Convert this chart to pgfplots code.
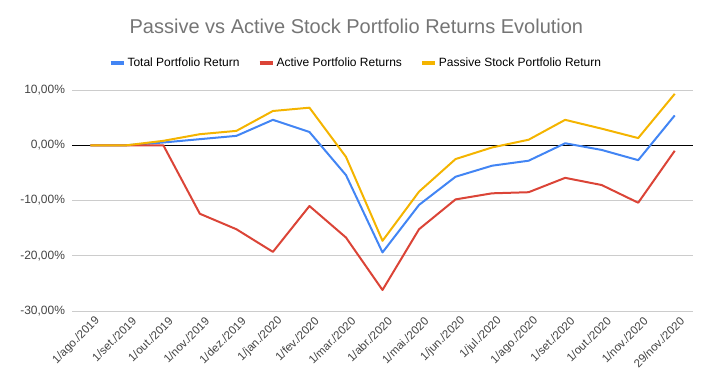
\documentclass[border=0pt]{standalone}
\usepackage{pgfplots}
\pgfplotsset{compat=1.18}
\usepackage{fontspec}
\setmainfont{Liberation Sans}
\definecolor{gblue}{HTML}{4285F4}
\definecolor{gred}{HTML}{DB4437}
\definecolor{gyellow}{HTML}{F4B400}
\definecolor{titlegray}{HTML}{757575}
\definecolor{ticktext}{HTML}{444444}
\definecolor{gridgray}{HTML}{CCCCCC}
\begin{document}
\begin{tikzpicture}
\useasboundingbox (-72bp,-81bp) rectangle (641bp,311bp);
\begin{axis}[
  at={(0,0)}, anchor=south west,
  scale only axis, width=621bp, height=221bp,
  xmin=-0.5, xmax=16.5, ymin=-30, ymax=10,
  xtick={0,...,16},
  xticklabels={1/ago./2019,1/set./2019,1/out./2019,1/nov./2019,1/dez./2019,1/jan./2020,1/fev./2020,1/mar./2020,1/abr./2020,1/mai./2020,1/jun./2020,1/jul./2020,1/ago./2020,1/set./2020,1/out./2020,1/nov./2020,29/nov./2020},
  ytick={-30,-20,-10,0,10},
  yticklabels={{-30,00\%},{-20,00\%},{-10,00\%},{0,00\%},{10,00\%}},
  extra y ticks={0},
  extra y tick labels={},
  extra y tick style={grid style={black, line width=0.9bp}},
  ymajorgrids,
  grid style={gridgray, line width=0.9bp},
  axis line style={draw=none},
  major tick length=0pt,
  tick label style={font=\fontsize{12bp}{14bp}\selectfont, text=ticktext},
  yticklabel style={xshift=-3.5bp},
  xticklabel style={rotate=45, anchor=east, xshift=3bp, yshift=-11bp,
    font=\fontsize{11.5bp}{13bp}\selectfont},
  title={Passive vs Active Stock Portfolio Returns Evolution},
  title style={at={(axis description cs:0.458,1.262)}, anchor=center,
    font=\fontsize{20bp}{24bp}\selectfont, text=titlegray},
  legend style={at={(axis description cs:0.457,1.122)}, anchor=center,
    draw=none, fill=none, legend columns=3,
    font=\fontsize{12bp}{14bp}\selectfont, text=black,
    /tikz/every even column/.append style={column sep=16bp},
    legend cell align=left, inner sep=0pt},
  legend image code/.code={\draw[#1, line width=4bp] (0bp,0bp) -- (13bp,0bp);},
  every axis plot/.append style={line width=2bp, line join=round},
]
\addplot[gblue, mark=none] coordinates {
(0,0) (1,0) (2,0.5) (3,1.1) (4,1.7) (5,4.6) (6,2.4) (7,-5.4) (8,-19.4)
(9,-10.8) (10,-5.7) (11,-3.7) (12,-2.8) (13,0.36) (14,-0.85) (15,-2.7) (16,5.4)};
\addlegendentry{Total Portfolio Return}
\addplot[gred, mark=none] coordinates {
(0,0) (1,0) (2,0) (3,-12.4) (4,-15.2) (5,-19.3) (6,-11.0) (7,-16.7) (8,-26.2)
(9,-15.2) (10,-9.8) (11,-8.7) (12,-8.5) (13,-5.9) (14,-7.2) (15,-10.4) (16,-1.0)};
\addlegendentry{Active Portfolio Returns}
\addplot[gyellow, mark=none] coordinates {
(0,0) (1,0) (2,0.8) (3,2.0) (4,2.6) (5,6.2) (6,6.8) (7,-2.1) (8,-17.3)
(9,-8.4) (10,-2.5) (11,-0.4) (12,1.0) (13,4.6) (14,3.0) (15,1.3) (16,9.3)};
\addlegendentry{Passive Stock Portfolio Return}
\end{axis}
\end{tikzpicture}
\end{document}
